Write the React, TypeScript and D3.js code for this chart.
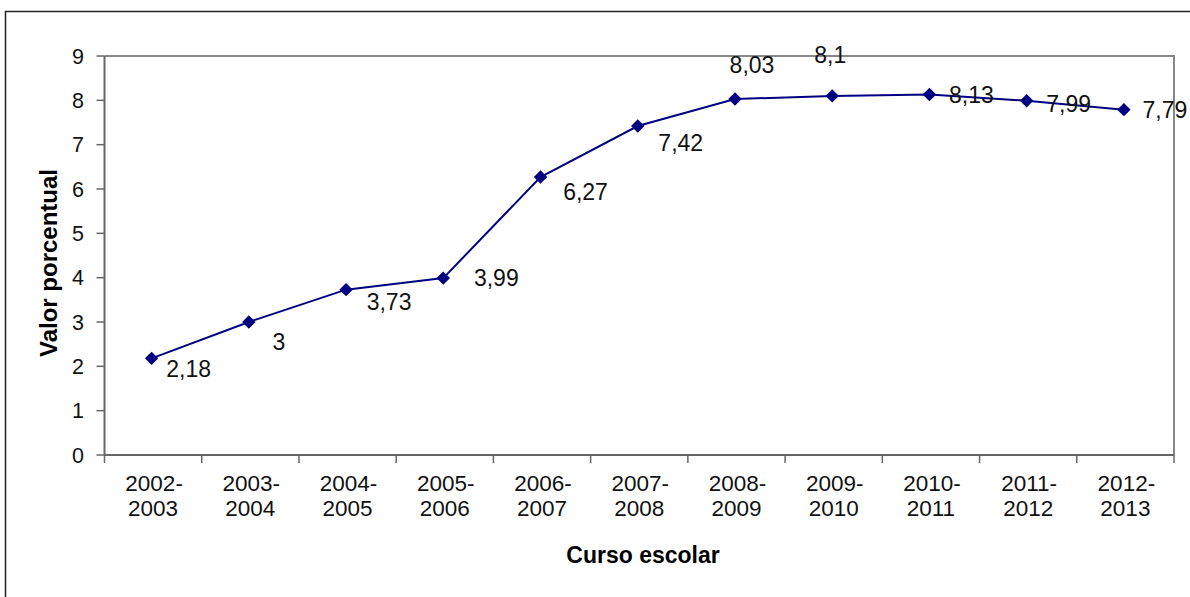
import React from "react";
import * as d3 from "d3";

const categories = [
  "2002-2003", "2003-2004", "2004-2005", "2005-2006", "2006-2007", "2007-2008",
  "2008-2009", "2009-2010", "2010-2011", "2011-2012", "2012-2013",
];
const values = [2.18, 3, 3.73, 3.99, 6.27, 7.42, 8.03, 8.1, 8.13, 7.99, 7.79];
const labels = ["2,18", "3", "3,73", "3,99", "6,27", "7,42", "8,03", "8,1", "8,13", "7,99", "7,79"];
const yTicks = [0, 1, 2, 3, 4, 5, 6, 7, 8, 9];

// label offsets (style): relative to each point
const labelDx = [37, 30, 43, 53, 45, 43, 17, -2, 42, 42, 41];
const labelDy = [10, 20, 12, 0, 15, 17, -34, -41, 0, 3, 0];

const W = 1190;
const H = 597;
const left = 104.5;
const right = 1174;
const top = 56;
const bottom = 455;
const FONT = "'Liberation Sans', Arial, sans-serif";

export default function App() {
  const x = d3.scaleBand<string>().domain(categories).range([left, right]).paddingInner(0).paddingOuter(0);
  const y = d3.scaleLinear().domain([0, 9]).range([bottom, top]);
  const cx = (c: string) => (x(c) as number) + x.bandwidth() / 2 - 1.5;
  const line = d3
    .line<number>()
    .x((_, i) => cx(categories[i]))
    .y((d) => y(d));
  const boundaries = categories.map((c) => x(c) as number).concat([right]);
  const diamond = d3.symbol().type(d3.symbolDiamond2).size(115)();

  return (
    <svg
      width={W}
      height={H}
      style={{ position: "absolute", left: 0, top: 0, background: "#fff" }}
      fontFamily={FONT}
    >
      <rect x={0} y={0} width={W} height={H} fill="#fff" />
      {/* outer frame */}
      <rect x={5.5} y={11.5} width={W + 20} height={H + 20} fill="none" stroke="#222" strokeWidth={1.5} />
      {/* plot area border top/right */}
      <path d={`M${left},${top}H${right}V${bottom}`} fill="none" stroke="#888" strokeWidth={2} />
      {/* y axis */}
      <line x1={left} x2={left} y1={top} y2={bottom} stroke="#666" strokeWidth={2} />
      {yTicks.map((t) => (
        <g key={t}>
          <line x1={left - 8} x2={left} y1={y(t)} y2={y(t)} stroke="#666" strokeWidth={1.5} />
          <text x={84} y={y(t)} dy="0.36em" textAnchor="end" fontSize={21.5} fill="#111">
            {t}
          </text>
        </g>
      ))}
      {/* x axis */}
      <line x1={left} x2={right} y1={bottom} y2={bottom} stroke="#666" strokeWidth={2} />
      {boundaries.map((b, i) => (
        <line key={i} x1={b} x2={b} y1={bottom} y2={bottom + 8} stroke="#666" strokeWidth={1.5} />
      ))}
      {categories.map((c) => {
        const [a, b] = c.split("-");
        const xc = (x(c) as number) + x.bandwidth() / 2;
        return (
          <text key={c} x={xc} textAnchor="middle" fontSize={22.5} fill="#111">
            <tspan x={xc + 1} y={491}>{a + "-"}</tspan>
            <tspan x={xc} y={516}>{b}</tspan>
          </text>
        );
      })}
      {/* axis titles */}
      <text x={643} y={563} textAnchor="middle" fontSize={23} fontWeight="bold" fill="#000">
        Curso escolar
      </text>
      <text
        transform={`translate(57,${263}) rotate(-90)`}
        textAnchor="middle"
        fontSize={24}
        fontWeight="bold"
        fill="#000"
      >
        Valor porcentual
      </text>
      {/* series */}
      <path d={line(values) || ""} fill="none" stroke="#000080" strokeWidth={2} />
      {values.map((v, i) => (
        <path key={i} d={diamond || ""} transform={`translate(${cx(categories[i])},${y(v)})`} fill="#000080" />
      ))}
      {values.map((v, i) => (
        <text
          key={"l" + i}
          x={cx(categories[i]) + labelDx[i]}
          y={y(v) + labelDy[i]}
          dy="0.36em"
          textAnchor="middle"
          fontSize={23}
          fill="#111"
        >
          {labels[i]}
        </text>
      ))}
    </svg>
  );
}
